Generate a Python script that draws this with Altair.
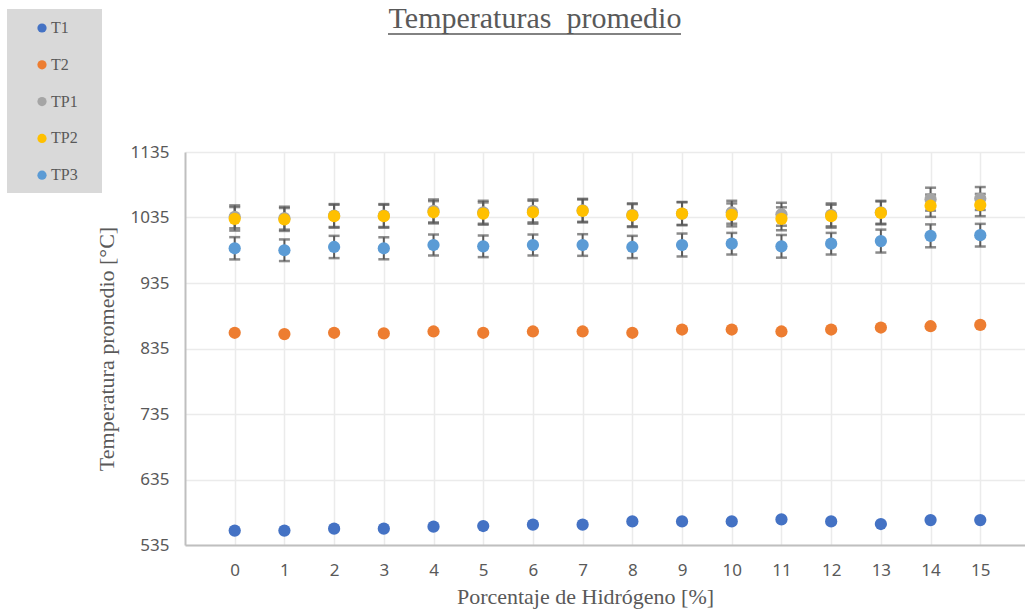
import altair as alt
import pandas as pd

# ---- data ----
hidrogeno = list(range(16))
series = ["T1", "T2", "TP1", "TP2", "TP3"]
colores = ["#4472C4", "#ED7D31", "#A5A5A5", "#FFC000", "#5B9BD5"]

t1 = [557, 557, 560, 560, 563, 564, 566, 566, 571, 571, 571, 574, 571, 567, 573, 573]
t2 = [859, 857, 859, 858, 861, 859, 861, 861, 859, 864, 864, 861, 864, 867, 869, 871]
tp1 = [1036, 1034, 1038, 1038, 1045, 1043, 1045, 1046, 1039, 1041, 1043, 1040, 1039, 1043, 1063, 1064]
tp2 = [1033, 1032, 1037, 1037, 1043, 1041, 1043, 1045, 1038, 1041, 1039, 1033, 1037, 1042, 1053, 1054]
tp3 = [988, 985, 990, 988, 993, 991, 993, 993, 990, 993, 995, 991, 995, 999, 1007, 1008]

err_tp1 = [17.5, 17.5, 17.5, 17.5, 17.5, 17.5, 17.5, 17.5, 17.5, 17.5, 17.5, 17.5, 17.5, 17.5, 17.5, 17.5]
err_tp2 = [18, 17.5, 17.5, 17.5, 17, 17, 17.5, 17.5, 17.5, 17.5, 17.5, 17.5, 17.5, 17.5, 17, 17]
err_tp3 = [17, 16.5, 17, 16.8, 16, 16.5, 16, 16.5, 17, 17.5, 16.5, 17.3, 16.5, 17.5, 17.5, 17.3]

y_ticks = [535, 635, 735, 835, 935, 1035, 1135]

titulo = "Temperaturas\u00a0 promedio"
titulo_y = "Temperatura promedio [°C]"
titulo_x = "Porcentaje de Hidrógeno [%]"

# ---- tables ----
valores = {"T1": t1, "T2": t2, "TP1": tp1, "TP2": tp2, "TP3": tp3}
errores = {"TP1": err_tp1, "TP2": err_tp2, "TP3": err_tp3}
rows = []
for k, name in enumerate(series):
    for x, v in zip(hidrogeno, valores[name]):
        rows.append({"x": x, "serie": name, "valor": v, "ord": k})
df = pd.DataFrame(rows)

erows = []
for name, errs in errores.items():
    for x, v, e in zip(hidrogeno, valores[name], errs):
        erows.append({"x": x, "serie": name, "lo": v - e, "hi": v + e})
edf = pd.DataFrame(erows)

GREY = "#595959"
xscale = alt.Scale(domain=[-1, 15.9], nice=False, zero=False)
yscale = alt.Scale(domain=[535, 1135], nice=False, zero=False)

xaxis = alt.Axis(values=hidrogeno, title=titulo_x, grid=True, ticks=False,
                 labelPadding=17, titlePadding=8, titleX=400, titleAnchor="start",
                 titleAlign="center")
yaxis = alt.Axis(values=y_ticks, title=titulo_y, grid=True, ticks=False, format="d",
                 labelPadding=16, titlePadding=12)

X = alt.X("x:Q", scale=xscale, axis=xaxis, title=titulo_x)

one = pd.DataFrame({"a": [0]})

legend_box = alt.Chart(one).mark_rect(color="#d9d9d9").encode(
    x=alt.value(-178), x2=alt.value(-83), y=alt.value(-143), y2=alt.value(41)
)

rules = alt.Chart(edf).mark_rule(color=GREY, strokeWidth=2).encode(
    x=X,
    y=alt.Y("lo:Q", scale=yscale, axis=yaxis, title=titulo_y),
    y2="hi:Q",
)
cap_lo = alt.Chart(edf).mark_tick(color=GREY, orient="horizontal", size=11, thickness=2.5).encode(
    x=X, y=alt.Y("lo:Q", scale=yscale, axis=yaxis, title=titulo_y)
)
cap_hi = alt.Chart(edf).mark_tick(color=GREY, orient="horizontal", size=11, thickness=2.5).encode(
    x=X, y=alt.Y("hi:Q", scale=yscale, axis=yaxis, title=titulo_y)
)

points = alt.Chart(df).mark_circle(size=150, opacity=1).encode(
    x=X,
    y=alt.Y("valor:Q", scale=yscale, axis=yaxis, title=titulo_y),
    color=alt.Color(
        "serie:N",
        scale=alt.Scale(domain=series, range=colores),
        legend=alt.Legend(
            orient="none", legendX=-151, legendY=-132, title=None,
            labelFont="Liberation Serif", labelFontSize=16, labelColor=GREY,
            symbolType="circle", symbolSize=85, symbolStrokeWidth=0,
            labelOffset=1, rowPadding=20.8, padding=0,
        ),
    ),
    order=alt.Order("ord:Q"),
)

title_text = alt.Chart(one).mark_text(
    text=titulo, font="Liberation Serif", fontSize=30, color=GREY,
    align="center", baseline="alphabetic",
).encode(x=alt.value(350), y=alt.value(-124))

underline = alt.Chart(one).mark_rule(color=GREY, strokeWidth=1.5).encode(
    x=alt.value(203), x2=alt.value(496), y=alt.value(-118)
)

chart = alt.layer(legend_box, rules, cap_lo, cap_hi, points, title_text, underline).properties(
    width=840, height=393,
    autosize=alt.AutoSizeParams(type="none"),
    padding={"left": 185, "top": 152, "right": 0, "bottom": 64},
    background="white",
).configure_view(stroke=None).configure_axis(
    labelFont="Noto Sans", labelFontSize=17, labelColor=GREY,
    titleFont="Liberation Serif", titleFontSize=22, titleFontWeight="normal", titleColor=GREY,
    domainColor="#bfbfbf", domainWidth=2, gridColor="#ebebeb", gridWidth=1.5,
)

chart.save("out.html", embed_options={"renderer": "svg", "actions": False})
